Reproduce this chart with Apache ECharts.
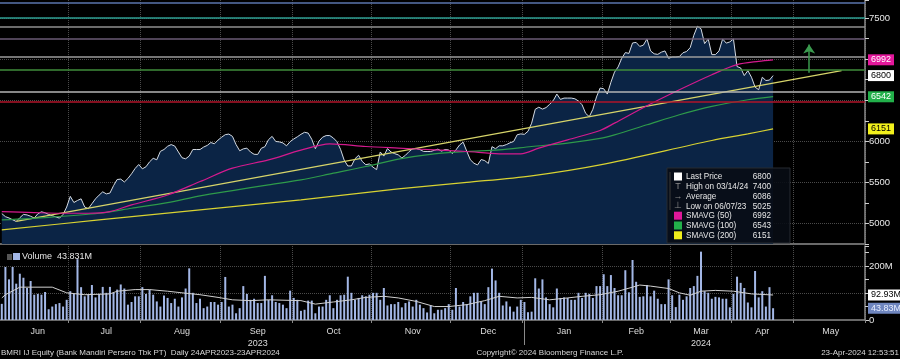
<!DOCTYPE html>
<html><head><meta charset="utf-8">
<script src="https://cdn.jsdelivr.net/npm/echarts@6/dist/echarts.min.js"></script>
<style>html,body{margin:0;padding:0;background:#000;}#c{width:900px;height:359px;}</style>
</head><body><div id="c"></div>
<script>
// ---------- DATA ----------
const slotCount = 240; // trading-day slots incl. future (to May 2024)
const monthStarts = [19, 39, 61, 81, 103, 125, 145, 167, 186, 203, 220];
const monthLabelIdx = [10, 29, 50, 71, 92, 114, 135, 156, 176, 194, 211, 230];
const monthLabels = ['Jun', 'Jul', 'Aug', 'Sep\n2023', 'Oct', 'Nov', 'Dec', 'Jan', 'Feb', 'Mar\n2024', 'Apr', 'May'];
const yearStartIdx = 145;
const priceTickLabels = [5000, 5500, 6000, 7500];
const volumeTickLabels = {0: '0', 200: '200M'};

const price = [
5120,5083,5067,5045,5025,5070,5110,5104,5088,5066,
5118,5142,5130,5110,5095,5080,5065,5110,5200,5330,
5255,5280,5300,5200,5180,5240,5300,5345,5385,5360,
5370,5460,5535,5540,5505,5548,5605,5670,5718,5665,
5690,5750,5793,5775,5878,5900,5940,5960,5942,5870,
5800,5787,5820,5900,5900,5900,5930,5950,5985,5970,
6015,6050,6081,6088,6060,5960,5885,5908,5917,5870,
5842,5840,5915,5935,6020,6060,5998,5993,5980,5945,
5996,6028,6055,6085,6110,6100,6025,5910,6002,6050,
6070,6070,6040,5995,5900,5770,5700,5700,5788,5830,
5755,5715,5725,5685,5655,5870,5820,5912,5870,5850,
5835,5797,5830,5875,5910,5912,5900,5877,5876,5876,
5890,5905,5880,5900,5895,5850,5895,5955,5990,5880,
5775,5733,5712,5778,5765,5730,5935,5910,5945,5945,
5960,5982,5997,6080,6090,6085,6122,6220,6390,6415,
6392,6410,6450,6495,6575,6510,6526,6526,6526,6518,
6490,6445,6340,6300,6390,6540,6648,6640,6575,6719,
6842,6905,7010,7080,7070,7197,7204,7155,7170,7246,
7100,7065,7058,7085,7100,7010,7026,7026,7032,7078,
7093,7140,7290,7400,7370,7189,7246,7055,7055,7100,
7246,7195,7210,7246,6910,6893,6800,6860,6780,6660,
6628,6780,6740,6745,6800
];

const volume = [
60,197,151,197,135,172,157,119,145,94,97,
94,104,40,50,59,63,50,75,107,97,
226,122,88,94,130,84,97,123,101,123,
101,113,132,117,57,67,88,88,122,97,
113,94,69,50,91,82,63,79,50,84,
117,192,101,63,79,44,50,67,67,57,
67,160,50,57,25,44,126,97,75,79,
63,63,164,75,92,67,63,57,44,109,
82,75,34,
38,72,72,25,50,50,75,92,44,75,
92,94,161,101,75,82,92,88,94,101,
101,75,119,54,59,59,67,47,63,69,
50,75,57,44,28,54,25,38,38,44,
59,38,119,50,67,59,88,101,101,69,
59,122,191,147,101,54,69,50,31,50,
75,67,29,31,155,117,151,84,59,47,
117,82,84,82,75,75,101,82,101,97,
82,126,126,
170,126,167,119,92,92,185,103,223,142,
86,88,130,88,109,79,59,59,151,92,
48,94,75,88,119,126,164,254,107,101,
79,86,84,79,79,47,97,161,138,119,
65,47,182,84,107,50,122,43.831
];

const volumeAvg = [[0,82],[1,94],[5,122],[14,122],[18,101],[23,94],[30,97],[32,107],[37,113],[41,113],[46,107],[50,101],[55,94],[60,84],[64,75],[69,72],[74,75],[83,72],
  [87,59],[92,67],[97,75],[101,84],[106,88],[110,82],[115,69],[120,50],[124,50],[129,57],[134,72],[138,88],[143,82],[147,84],[152,75],[157,82],[161,88],[166,94],
  [171,107],[175,122],[177,130],[180,126],[185,117],[188,101],[191,92],[192,97],[194,107],[198,110],[203,107],[208,97],[214,92.931]];

const sma50 = [[0,5144],[9,5132],[18,5124],[24,5124],[30,5144],[36,5226],[46,5347],[55,5510],[64,5673],[74,5774],[83,5892],[91,5969],[101,5937],[110,5917],[120,5896],[129,5876],[138,5848],[144,5848],[149,5917],[157,6018],[166,6132],[170,6221],[179,6433],[188,6628],[197,6811],[204,6933],[210,6974],[214,6992]];
const sma100 = [[0,5043],[13,5075],[27,5124],[36,5185],[46,5254],[55,5335],[64,5400],[74,5470],[83,5530],[92,5612],[101,5693],[110,5783],[120,5848],[129,5876],[138,5896],[147,5937],[157,5978],[166,6035],[170,6079],[179,6201],[188,6323],[197,6425],[207,6506],[214,6543]];
const sma200 = [[0,4921],[27,5043],[55,5165],[83,5287],[110,5420],[129,5500],[147,5580],[166,5713],[197,6010],[207,6090],[214,6151]];
const trendLine = [[4,5025],[233,6860]];
const arrowUp = [[224,6835],[224,7177]];

const levelValues = [7685, 7500, 7400, 7245, 7030, 6872, 6604, 6479];
const levelColors = ['#5a74ad', '#2d9e92', '#8f8f8f', '#6a5a74', '#9c9c9c', '#3f8d3b', '#b4b4b4', '#b0142a'];

const lastPrice = 6800, lastSma50 = 6992, lastSma100 = 6542, lastSma200 = 6151;
const lastVolume = 43.831, lastVolumeAvg = 92.931;

const legendRows = ['Last Price', 'High on 03/14/24', 'Average', 'Low on 06/07/23', 'SMAVG (50)', 'SMAVG (100)', 'SMAVG (200)'];
const legendValues = ['6800', '7400', '6086', '5025', '6992', '6543', '6151'];
const legendIcons = ['sq', 'T', '→', '⊥', 'sq', 'sq', 'sq'];
const legendIconColors = ['#ffffff', '#8a8a8a', '#8a8a8a', '#8a8a8a', '#e0189a', '#22b04a', '#f0ee1c'];

const footerLeft = 'BMRI IJ Equity (Bank Mandiri Persero Tbk PT)  Daily 24APR2023-23APR2024';
const footerCenter = 'Copyright\u00a9 2024 Bloomberg Finance L.P.';
const footerRight = '23-Apr-2024 12:53:51';

// ---------- CHART ----------
const FONT = '"Liberation Sans", Arial, sans-serif';
const T = 'rgba(0,0,0,0)';
const cats = Array.from({length: slotCount}, (_, i) => String(i));
const gridDot = {show: true, interval: (i) => monthStarts.includes(i), lineStyle: {color: '#4a4a4a', type: 'dotted', width: 1}};

function tag(value, color, bg, fmt) {
  return {
    silent: true, symbol: 'none', animation: false,
    lineStyle: {color: T, width: 0},
    label: {show: true, position: 'end', distance: 3, formatter: fmt || String(value), color: color,
      backgroundColor: bg, padding: [1, 3, 0, 3], fontSize: 9, lineHeight: 10, fontFamily: FONT},
    data: [{yAxis: value}]
  };
}

const legendEls = [{type: 'rect', shape: {x: 667, y: 168, width: 123, height: 75},
  style: {fill: 'rgba(8,12,20,0.9)', stroke: '#262a30', lineWidth: 1}, z: 100},
  {type: 'line', shape: {x1: 670, y1: 172, x2: 670, y2: 210}, style: {stroke: '#3a3a3a', lineWidth: 1}, z: 101}];
legendRows.forEach((name, r) => {
  const y = 176.5 + r * 9.8;
  if (legendIcons[r] === 'sq') {
    legendEls.push({type: 'rect', shape: {x: 674, y: y - 4, width: 8, height: 8}, style: {fill: legendIconColors[r]}, z: 101});
  } else {
    legendEls.push({type: 'text', x: 678, y: y, style: {text: legendIcons[r], fill: legendIconColors[r], font: '9px ' + FONT, align: 'center', verticalAlign: 'middle'}, z: 101});
  }
  legendEls.push({type: 'text', x: 686, y: y, scaleX: 0.86, style: {text: name, fill: '#e6e6e6', font: '9.5px ' + FONT, verticalAlign: 'middle'}, z: 101});
  legendEls.push({type: 'text', x: 771, y: y, scaleX: 0.86, style: {text: legendValues[r], fill: '#e6e6e6', font: '9.5px ' + FONT, align: 'right', verticalAlign: 'middle'}, z: 101});
});

const option = {
  backgroundColor: '#000',
  animation: false,
  grid: [
    {left: 0, right: 35, top: 0, height: 244},
    {left: 0, right: 35, top: 246, height: 74}
  ],
  xAxis: [
    {type: 'category', gridIndex: 0, position: 'bottom', data: cats, boundaryGap: true,
      axisLine: {show: true, lineStyle: {color: '#6a6a6a', width: 2}}, axisTick: {show: false}, axisLabel: {show: false},
      splitLine: gridDot},
    {type: 'category', gridIndex: 1, position: 'bottom', data: cats, boundaryGap: true,
      axisLine: {show: true, lineStyle: {color: '#8a8a8a', width: 1.5}},
      axisTick: {show: true, interval: (i) => monthStarts.includes(i), length: 3, lineStyle: {color: '#8a8a8a'}},
      axisLabel: {show: true, interval: (i) => monthLabelIdx.includes(i),
        formatter: (v) => monthLabels[monthLabelIdx.indexOf(Number(v))] || '',
        color: '#dcdcdc', fontSize: 9, fontFamily: FONT, margin: 6, lineHeight: 12},
      splitLine: gridDot},
    {type: 'category', gridIndex: 1, position: 'bottom', data: cats, boundaryGap: true,
      axisLine: {show: false}, axisLabel: {show: false}, splitLine: {show: false},
      axisTick: {show: true, alignWithLabel: true, interval: (i) => i === yearStartIdx, length: 25, lineStyle: {color: '#8a8a8a'}}}
  ],
  yAxis: [
    {type: 'value', gridIndex: 0, position: 'right', min: 4750, max: 7720, interval: 250,
      axisLine: {show: true, lineStyle: {color: '#8a8a8a', width: 1.5}},
      axisTick: {show: true, length: 4, lineStyle: {color: '#cfcfcf'}},
      axisLabel: {formatter: (v) => priceTickLabels.includes(v) ? String(v) : '', color: '#e8e8e8', fontSize: 9.5, fontFamily: FONT, margin: 4},
      splitLine: {show: true, lineStyle: {color: [T, '#4a4a4a'], type: 'dotted', width: 1}}},
    {type: 'value', gridIndex: 1, position: 'right', min: 0, max: 275, interval: 50,
      axisLine: {show: true, lineStyle: {color: '#8a8a8a', width: 1.5}},
      axisTick: {show: true, length: 4, lineStyle: {color: '#cfcfcf'}},
      axisLabel: {formatter: (v) => volumeTickLabels[v] || '', color: '#e8e8e8', fontSize: 9.5, fontFamily: FONT, margin: 4},
      splitLine: {show: true, lineStyle: {color: [T, T, '#4a4a4a', T, '#4a4a4a', T], type: 'dotted', width: 1}}}
  ],
  series: [
    {name: 'Last Price', type: 'line', xAxisIndex: 0, yAxisIndex: 0, data: price, symbol: 'none', z: 2,
      lineStyle: {color: '#d4dae2', width: 1}, areaStyle: {color: '#0b2445', opacity: 1, origin: 'start'},
      markLine: tag(lastPrice, '#000', '#ffffff')},
    {name: 'levels', type: 'line', xAxisIndex: 0, yAxisIndex: 0, data: [], z: 3,
      markLine: {silent: true, symbol: 'none', animation: false, label: {show: false},
        lineStyle: {width: 1.5, type: 'solid'},
        data: levelValues.map((v, i) => ({yAxis: v, lineStyle: {color: levelColors[i], width: 1.5, type: 'solid'}}))}},
    {name: 'trend', type: 'line', xAxisIndex: 0, yAxisIndex: 0, data: trendLine, symbol: 'none', z: 4,
      lineStyle: {color: '#d6d46a', width: 1.2}},
    {name: 'SMAVG (200)', type: 'line', xAxisIndex: 0, yAxisIndex: 0, data: sma200, symbol: 'none', smooth: 0.3, z: 4,
      lineStyle: {color: '#d8d232', width: 1.2}, markLine: tag(lastSma200, '#000', '#f2f01c')},
    {name: 'SMAVG (100)', type: 'line', xAxisIndex: 0, yAxisIndex: 0, data: sma100, symbol: 'none', smooth: 0.3, z: 4,
      lineStyle: {color: '#2e9a4a', width: 1.2}, markLine: tag(lastSma100, '#fff', '#22b04a')},
    {name: 'SMAVG (50)', type: 'line', xAxisIndex: 0, yAxisIndex: 0, data: sma50, symbol: 'none', smooth: 0.3, z: 4,
      lineStyle: {color: '#d41a8e', width: 1.2}, markLine: tag(lastSma50, '#fff', '#e3179b')},
    {name: 'arrow', type: 'line', xAxisIndex: 0, yAxisIndex: 0, data: [], z: 5,
      markLine: {silent: true, animation: false, symbol: ['none', 'arrow'], symbolSize: [9, 9], label: {show: false},
        lineStyle: {color: '#3a9a4e', width: 1.5, type: 'solid'},
        data: [[{coord: arrowUp[0]}, {coord: arrowUp[1]}]]}},
    {name: 'Volume', type: 'bar', xAxisIndex: 1, yAxisIndex: 1, data: volume, barWidth: 2, z: 2,
      itemStyle: {color: '#a3b7e6'}, markLine: tag(lastVolume, '#e8eeff', '#6f86bf', '{c}M')},
    {name: 'Volume avg', type: 'line', xAxisIndex: 1, yAxisIndex: 1, data: volumeAvg, symbol: 'none', z: 3,
      lineStyle: {color: '#d0d0d0', width: 1}, markLine: tag(lastVolumeAvg, '#000', '#ffffff', '{c}M')}
  ],
  graphic: legendEls.concat([
    {type: 'rect', shape: {x: 7, y: 254, width: 5, height: 6}, style: {fill: '#555'}, z: 100},
    {type: 'rect', shape: {x: 13, y: 253, width: 7, height: 7}, style: {fill: '#a3b7e6'}, z: 100},
    {type: 'text', x: 22, y: 257, style: {text: 'Volume  43.831M', fill: '#e6e6e6', font: '9px ' + FONT, verticalAlign: 'middle'}, z: 100},
    {type: 'text', x: 1, y: 353, style: {text: footerLeft, fill: '#d8d8d8', font: '8px ' + FONT, verticalAlign: 'middle'}, z: 100},
    {type: 'text', x: 550, y: 353, style: {text: footerCenter, fill: '#d8d8d8', font: '8px ' + FONT, align: 'center', verticalAlign: 'middle'}, z: 100},
    {type: 'text', x: 899, y: 353, style: {text: footerRight, fill: '#d8d8d8', font: '8px ' + FONT, align: 'right', verticalAlign: 'middle'}, z: 100}
  ])
};
const chart = echarts.init(document.getElementById('c'));
chart.setOption(option);
</script></body></html>
